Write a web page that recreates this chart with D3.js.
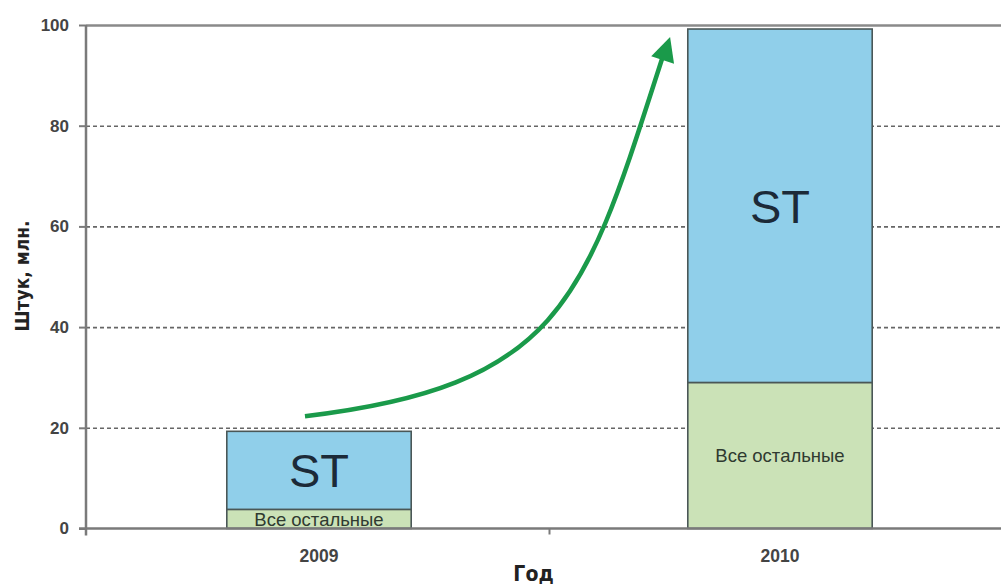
<!DOCTYPE html>
<html><head><meta charset="utf-8">
<script src="https://cdn.jsdelivr.net/npm/d3@7"></script>
<style>
html,body{margin:0;padding:0;background:#fff;}
svg{display:block;}
</style></head>
<body>
<svg id="c" width="1001" height="587"></svg>
<script>
const years = ["2009", "2010"];
const others = [3.8, 29.0];
const st = [15.5, 70.2];
const yTicks = [0, 20, 40, 60, 80, 100];
const seriesNames = ["Все остальные", "ST"];
const yTitle = "Штук, млн.";
const xTitle = "Год";
// growth arrow annotation (value-space y, fraction-of-band x)
const arrowY = [22.3, 28.4, 46.1, 93.4, 97.6];

(function () {
const svg = d3.select("#c");
const mLeft = 86, mRight = 1008, mTop = 25, mBottom = 528.5;
const x = d3.scaleBand().domain(years).range([mLeft + 2.5, mRight + 2.5]).paddingInner(0.6).paddingOuter(0.3);
const y = d3.scaleLinear().domain([0, 100]).range([mBottom, mTop]);

const axisCol = "#7a7a7a";
const textCol = "#444";
const font = "'Liberation Sans', Arial, sans-serif";
const narrow = "'Liberation Sans Narrow', 'DejaVu Sans Condensed', Arial, sans-serif";

// gridlines
const grid = svg.append("g").attr("transform", `translate(${mLeft},0)`)
  .call(d3.axisLeft(y).tickValues(yTicks.filter(v => v > 0)).tickSize(-(1001 - mLeft)).tickFormat(""));
grid.select(".domain").remove();
grid.selectAll(".tick line")
  .attr("stroke", d => d === 100 ? "#8a8a8a" : "#666")
  .attr("stroke-width", d => d === 100 ? 2.5 : 1.6)
  .attr("stroke-dasharray", d => d === 100 ? null : "4,3");

// bars
const stackData = years.map((yr, i) => ({year: yr, others: others[i], st: st[i]}));
const stack = d3.stack().keys(["others", "st"])(stackData);
const colors = {others: "#cbe2b7", st: "#90cfea"};
svg.append("g").selectAll("g").data(stack).join("g")
  .attr("fill", d => colors[d.key])
  .selectAll("rect").data(d => d).join("rect")
  .attr("x", d => x(d.data.year))
  .attr("width", x.bandwidth())
  .attr("y", d => y(d[1]))
  .attr("height", d => y(d[0]) - y(d[1]))
  .attr("stroke", "#4a5757").attr("stroke-width", 1.6);

// bar labels
stack.forEach(layer => {
  layer.forEach(d => {
    const cx = x(d.data.year) + x.bandwidth() / 2;
    const cy = (y(d[0]) + y(d[1])) / 2;
    if (layer.key === "st") {
      svg.append("text").attr("x", cx).attr("y", cy).attr("dy", "0.36em")
        .attr("text-anchor", "middle").attr("font-family", font).attr("font-size", 47)
        .attr("fill", "#1c2a38").text(seriesNames[1]);
    } else {
      const small = (y(d[0]) - y(d[1])) < 30;
      svg.append("text").attr("x", cx).attr("y", small ? y(d[0]) - 2.5 : cy).attr("dy", small ? 0 : "0.36em")
        .attr("text-anchor", "middle").attr("font-family", font).attr("font-size", 18.5)
        .attr("fill", "#2f3a30").text(seriesNames[0]);
    }
  });
});

// y axis
const ya = svg.append("g").attr("transform", `translate(${mLeft},0)`)
  .call(d3.axisLeft(y).tickValues(yTicks).tickSize(7).tickPadding(10));
ya.select(".domain").attr("stroke", axisCol).attr("stroke-width", 2.5).attr("d", `M0,${mTop}V${mBottom + 7}`);
ya.selectAll(".tick line").attr("stroke", axisCol).attr("stroke-width", 2);
ya.selectAll(".tick text").attr("font-family", font).attr("font-size", 17).attr("font-weight", "bold")
  .attr("fill", textCol);

// x axis
const xa = svg.append("g");
xa.append("line").attr("x1", mLeft - 7).attr("x2", 1001).attr("y1", mBottom).attr("y2", mBottom)
  .attr("stroke", axisCol).attr("stroke-width", 2.5);
const step = x.step();
const boundary = x(years[0]) + x.bandwidth() + (step - x.bandwidth()) / 2;
xa.append("line").attr("x1", boundary).attr("x2", boundary).attr("y1", mBottom).attr("y2", mBottom + 6)
  .attr("stroke", axisCol).attr("stroke-width", 2);
xa.selectAll("text.yr").data(years).join("text").attr("class", "yr")
  .attr("x", d => x(d) + x.bandwidth() / 2).attr("y", mBottom + 33)
  .attr("text-anchor", "middle").attr("font-family", font).attr("font-size", 17.5)
  .attr("font-weight", "bold").attr("fill", textCol).text(d => d);

// titles
svg.append("text").attr("x", boundary - 16).attr("y", 581).attr("text-anchor", "middle")
  .attr("font-family", narrow).attr("font-weight", "bold").attr("font-size", 21).attr("fill", "#222").text(xTitle);
svg.append("text").attr("transform", `translate(29,${276}) rotate(-90)`).attr("text-anchor", "middle")
  .attr("font-family", narrow).attr("font-weight", "bold").attr("font-size", 19).attr("fill", "#222").text(yTitle);

// arrow
const bx0 = x(years[0]) - 2.5;
const ax = v => bx0 + v * step;
const p0 = [ax(0.175), y(arrowY[0])];
const p1 = [ax(0.739), y(arrowY[1])];
const p2 = [ax(0.783), y(arrowY[2])];
const p3 = [ax(0.950), y(arrowY[3])];
const tip = [ax(0.967), y(arrowY[4])];
const pth = d3.path();
pth.moveTo(p0[0], p0[1]);
pth.bezierCurveTo(p1[0], p1[1], p2[0], p2[1], p3[0], p3[1]);
svg.append("path").attr("d", pth.toString()).attr("fill", "none").attr("stroke", "#1a9a4a").attr("stroke-width", 4.5);
const dx = tip[0] - p2[0], dy = tip[1] - p2[1];
const len = Math.hypot(dx, dy), ux = dx / len, uy = dy / len;
const hl = 24, hw = 12;
const base = [tip[0] - ux * hl, tip[1] - uy * hl];
svg.append("path").attr("d",
  `M${tip[0]},${tip[1]}L${base[0] - uy * hw},${base[1] + ux * hw}L${base[0] + uy * hw},${base[1] - ux * hw}Z`)
  .attr("fill", "#1a9a4a");
})();
</script>
</body></html>
